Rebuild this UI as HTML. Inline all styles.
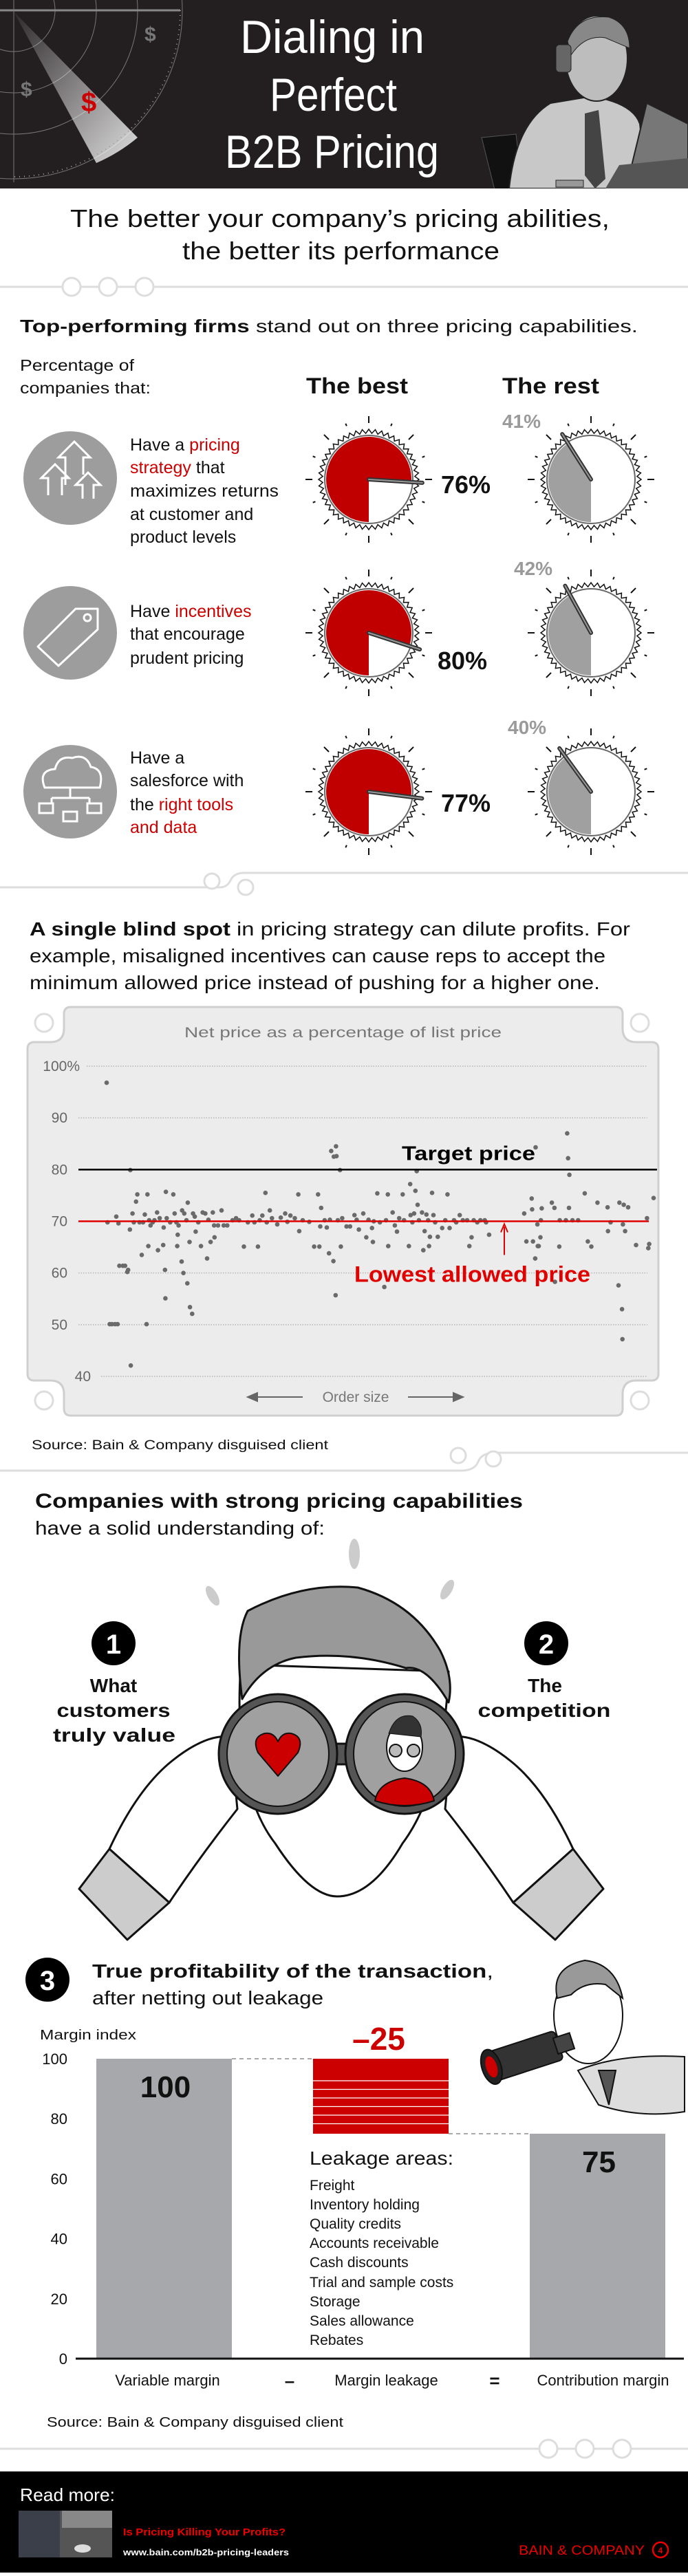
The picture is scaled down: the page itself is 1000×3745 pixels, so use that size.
<!DOCTYPE html>
<html><head><meta charset="utf-8">
<style>
html,body{margin:0;padding:0;background:#fff;}
body{width:1000px;height:3740px;overflow:hidden;font-family:"Liberation Sans",sans-serif;}
svg text{font-family:"Liberation Sans",sans-serif;}
</style></head>
<body>
<svg id="root" xmlns="http://www.w3.org/2000/svg" width="1000" height="3740" viewBox="0 0 1000 3740">
<defs>
<linearGradient id="beam" x1="0" y1="0" x2="1" y2="1"><stop offset="0" stop-color="#fff" stop-opacity="0.05"/><stop offset="1" stop-color="#fff" stop-opacity="0.85"/></linearGradient>
<clipPath id="hdrclip"><rect x="0" y="0" width="1000" height="274"/></clipPath>
</defs>

<!-- HEADER -->
<g>
<rect x="0" y="0" width="1000" height="274" fill="#231f20"/>
<g clip-path="url(#hdrclip)" fill="none" stroke="#777" stroke-width="1">
<circle cx="20" cy="15" r="60"/><circle cx="20" cy="15" r="120"/><circle cx="20" cy="15" r="180"/><circle cx="20" cy="15" r="245"/>
<line x1="0" y1="15" x2="262" y2="15" stroke="#888" stroke-width="3"/>
<line x1="20" y1="0" x2="20" y2="265"/>
<path d="M20 17 L140 237 A245 245 0 0 0 200 200 Z" fill="url(#beam)" stroke="none"/>
<path d="M262 15 A242 242 0 0 1 20 257" stroke="#999" stroke-width="2" stroke-dasharray="1 6" />
<text x="210" y="60" font-size="30" font-weight="bold" fill="#777" stroke="none">$</text>
<text x="30" y="140" font-size="30" font-weight="bold" fill="#777" stroke="none">$</text>
<text x="118" y="162" font-size="40" font-weight="bold" fill="#cc0000" stroke="none">$</text>
</g>
<g clip-path="url(#hdrclip)">
<path d="M700 200 L720 280 L760 280 L750 195 Z" fill="#111" stroke="#555"/>
<path d="M740 274 Q750 180 800 150 L860 140 Q920 150 930 180 L940 274 Z" fill="#c8c8c8" stroke="#222" stroke-width="2"/>
<path d="M850 165 L870 160 L880 260 L865 274 L850 255 Z" fill="#444"/>
<ellipse cx="867" cy="85" rx="45" ry="62" fill="#bdbdbd" stroke="#222" stroke-width="2"/>
<path d="M825 60 Q840 20 885 25 Q915 35 915 70 L880 55 Q850 50 830 80 Z" fill="#888" stroke="#222"/>
<rect x="808" y="65" width="22" height="40" rx="5" fill="#666" stroke="#222"/>
<path d="M910 274 L940 150 Q980 170 1000 180 L1000 274 Z" fill="#777" stroke="#222" stroke-width="2"/>
<path d="M900 240 L1000 230 L1000 274 L880 274 Z" fill="#555"/>
<rect x="808" y="262" width="40" height="10" fill="#999" stroke="#222"/>
</g>
<text x="349" y="77" font-size="68" fill="#fff" textLength="268" lengthAdjust="spacingAndGlyphs">Dialing in</text>
<text x="392" y="161" font-size="68" fill="#fff" textLength="185" lengthAdjust="spacingAndGlyphs">Perfect</text>
<text x="327" y="244" font-size="68" fill="#fff" textLength="311" lengthAdjust="spacingAndGlyphs">B2B Pricing</text>
</g>

<!-- SUBTITLE -->
<text x="102" y="330" font-size="36" fill="#111" textLength="784" lengthAdjust="spacingAndGlyphs">The better your company’s pricing abilities,</text>
<text x="265" y="377" font-size="36" fill="#111" textLength="461" lengthAdjust="spacingAndGlyphs">the better its performance</text>

<g fill="#fff" stroke="#ddd" stroke-width="3">
<line x1="0" y1="417" x2="1000" y2="417"/><circle cx="104" cy="417" r="13"/><circle cx="157" cy="417" r="13"/><circle cx="210" cy="417" r="13"/>
</g>

<!-- SECTION 1 -->
<text x="29" y="483" font-size="26" fill="#111" textLength="898" lengthAdjust="spacingAndGlyphs"><tspan font-weight="bold">Top-performing firms</tspan> stand out on three pricing capabilities.</text>
<text font-size="23" fill="#111"><tspan x="29" y="539" textLength="166" lengthAdjust="spacingAndGlyphs">Percentage of</tspan><tspan x="29" y="572" textLength="190" lengthAdjust="spacingAndGlyphs">companies that:</tspan></text>
<text x="445" y="572" font-size="32" font-weight="bold" fill="#111" textLength="148" lengthAdjust="spacingAndGlyphs">The best</text>
<text x="730" y="572" font-size="32" font-weight="bold" fill="#111" textLength="141" lengthAdjust="spacingAndGlyphs">The rest</text>

<g>
<circle cx="102" cy="695" r="68" fill="#9d9d9d"/>
<g fill="none" stroke="#fff" stroke-width="3"><path d="M95 705 V665 H85 L108 642 L131 665 H121 V690"/><path d="M70 720 V695 H60 L80 675 L100 695 H90 V720"/><path d="M120 725 V705 H110 L128 687 L146 705 H136 V725"/></g>
</g>
<text font-size="25" fill="#111"><tspan x="189" y="655">Have a <tspan fill="#cc0000">pricing</tspan></tspan><tspan x="189" y="688"><tspan fill="#cc0000">strategy</tspan> that</tspan><tspan x="189" y="722" textLength="216" lengthAdjust="spacingAndGlyphs">maximizes returns</tspan><tspan x="189" y="756">at customer and</tspan><tspan x="189" y="789">product levels</tspan></text>

<g>
<circle cx="102" cy="920" r="68" fill="#9d9d9d"/>
<path d="M55 940 L110 885 L142 885 L142 915 L85 968 Z" fill="none" stroke="#fff" stroke-width="3" stroke-linejoin="round"/><circle cx="127" cy="898" r="5" fill="none" stroke="#fff" stroke-width="3"/>
</g>
<text font-size="25" fill="#111"><tspan x="189" y="897">Have <tspan fill="#cc0000">incentives</tspan></tspan><tspan x="189" y="930">that encourage</tspan><tspan x="189" y="965">prudent pricing</tspan></text>

<g>
<circle cx="102" cy="1151" r="68" fill="#9d9d9d"/>
<g fill="none" stroke="#fff" stroke-width="3"><path d="M65 1145 Q55 1120 80 1118 Q85 1098 105 1102 Q125 1095 132 1115 Q152 1118 145 1145 Z"/><path d="M102 1145 V1160 M75 1160 H130 M75 1160 V1168 M130 1160 V1168"/><rect x="57" y="1168" width="20" height="14"/><rect x="92" y="1180" width="20" height="14"/><rect x="127" y="1168" width="20" height="14"/></g>
</g>
<text font-size="25" fill="#111"><tspan x="189" y="1110">Have a</tspan><tspan x="189" y="1143">salesforce with</tspan><tspan x="189" y="1178">the <tspan fill="#cc0000">right tools</tspan></tspan><tspan x="189" y="1211" fill="#cc0000">and data</tspan></text>

<g id="gauges"></g>

<g fill="#fff" stroke="#ddd" stroke-width="3">
<path d="M0 1290 H320 Q330 1290 335 1280 Q340 1269 355 1269 H1000" fill="none"/><circle cx="308" cy="1281" r="11"/><circle cx="357" cy="1290" r="11"/>
</g>

<!-- SECTION 2 -->
<text font-size="28" fill="#111">
<tspan x="43" y="1360" textLength="873" lengthAdjust="spacingAndGlyphs"><tspan font-weight="bold">A single blind spot</tspan> in pricing strategy can dilute profits. For</tspan>
<tspan x="43" y="1399" textLength="837" lengthAdjust="spacingAndGlyphs">example, misaligned incentives can cause reps to accept the</tspan>
<tspan x="43" y="1438" textLength="829" lengthAdjust="spacingAndGlyphs">minimum allowed price instead of pushing for a higher one.</tspan>
</text>

<g>
<path d="M103 1464 H895 Q905 1464 905 1474 V1495 Q905 1515 925 1515 H947 Q957 1515 957 1525 V1997 Q957 2007 947 2007 H925 Q905 2007 905 2027 V2048 Q905 2058 895 2058 H103 Q93 2058 93 2048 V2027 Q93 2007 73 2007 H50 Q40 2007 40 1997 V1525 Q40 1515 50 1515 H73 Q93 1515 93 1495 V1474 Q93 1464 103 1464 Z" fill="#ececec" stroke="#cfcfcf" stroke-width="3"/>
<g fill="#fff" stroke="#ddd" stroke-width="3"><circle cx="64" cy="1487" r="13"/><circle cx="930" cy="1487" r="13"/><circle cx="64" cy="2036" r="13"/><circle cx="930" cy="2036" r="13"/></g>
</g>
<text x="268" y="1508" font-size="21" fill="#777" textLength="461" lengthAdjust="spacingAndGlyphs">Net price as a percentage of list price</text>
<g id="scatter"></g>
<text x="517" y="2038" font-size="21" fill="#777" text-anchor="middle">Order size</text>
<g stroke="#666" stroke-width="2" fill="#666">
<line x1="362" y1="2031" x2="440" y2="2031"/><path d="M360 2031 L374 2025 L374 2037 Z"/>
<line x1="593" y1="2031" x2="671" y2="2031"/><path d="M673 2031 L659 2025 L659 2037 Z"/>
</g>
<text x="46" y="2107" font-size="19" fill="#111" textLength="431" lengthAdjust="spacingAndGlyphs">Source: Bain &amp; Company disguised client</text>

<g fill="#fff" stroke="#ddd" stroke-width="3">
<path d="M0 2138 H670 Q690 2138 695 2125 Q700 2112 720 2112 H1000" fill="none"/><circle cx="666" cy="2116" r="11"/><circle cx="717" cy="2121" r="11"/>
</g>

<!-- SECTION 3 -->
<text x="51" y="2192" font-size="30" font-weight="bold" fill="#111" textLength="709" lengthAdjust="spacingAndGlyphs">Companies with strong pricing capabilities</text>
<text x="51" y="2231" font-size="28" fill="#111" textLength="421" lengthAdjust="spacingAndGlyphs">have a solid understanding of:</text>

<g stroke="#111" stroke-width="3" stroke-linejoin="round">
<g fill="#ccc" stroke="none"><ellipse cx="515" cy="2259" rx="8" ry="22"/><ellipse cx="309" cy="2320" rx="7" ry="16" transform="rotate(-30 309 2320)"/><ellipse cx="650" cy="2311" rx="7" ry="16" transform="rotate(30 650 2311)"/></g>
<path d="M350 2420 Q338 2600 400 2680 Q450 2757 490 2757 Q540 2757 585 2680 Q645 2600 652 2430 Z" fill="#fff"/>
<path d="M352 2470 Q340 2380 360 2342 Q440 2300 520 2308 Q600 2330 640 2400 Q660 2440 652 2475 Q620 2420 590 2425 Q510 2400 430 2410 Q380 2420 352 2470 Z" fill="#999"/>
<path d="M159 2688 Q200 2600 250 2560 Q300 2520 335 2525 L345 2630 Q290 2700 246 2766 Z" fill="#fff"/>
<path d="M833 2688 Q792 2600 742 2560 Q692 2520 657 2525 L647 2630 Q702 2700 746 2766 Z" fill="#fff"/>
<path d="M115 2746 L159 2688 L246 2766 L185 2820 Z" fill="#ccc"/>
<path d="M877 2746 L833 2688 L746 2766 L807 2820 Z" fill="#ccc"/>
<rect x="480" y="2535" width="32" height="30" fill="#555"/>
<ellipse cx="404" cy="2550" rx="86" ry="87" fill="#555"/><ellipse cx="404" cy="2550" rx="74" ry="76" fill="#a0a0a0" stroke-width="2"/>
<ellipse cx="588" cy="2550" rx="86" ry="87" fill="#555"/><ellipse cx="588" cy="2550" rx="74" ry="76" fill="#a0a0a0" stroke-width="2"/>
<path d="M404 2582 L375 2548 Q365 2525 385 2520 Q398 2518 404 2532 Q410 2518 423 2520 Q443 2525 433 2548 Z" fill="#cc0000" stroke-width="2"/>
<path d="M545 2618 Q550 2590 588 2585 Q626 2590 631 2618 Q610 2625 588 2625 Q566 2625 545 2618 Z" fill="#cc0000" stroke-width="2"/>
<ellipse cx="588" cy="2540" rx="26" ry="35" fill="#fff" stroke-width="2"/>
<path d="M565 2520 Q575 2490 600 2495 Q615 2505 612 2525 Z" fill="#333" stroke-width="1"/>
<circle cx="575" cy="2545" r="9" fill="#bbb" stroke-width="2"/><circle cx="601" cy="2545" r="9" fill="#bbb" stroke-width="2"/>
</g>
<g>
<circle cx="165" cy="2389" r="32" fill="#000"/>
<text x="165" y="2404" font-size="40" font-weight="bold" fill="#fff" text-anchor="middle">1</text>
<text font-size="28" font-weight="bold" fill="#111" text-anchor="middle"><tspan x="165" y="2460">What</tspan><tspan x="165" y="2496" textLength="165" lengthAdjust="spacingAndGlyphs">customers</tspan><tspan x="166" y="2532" textLength="178" lengthAdjust="spacingAndGlyphs">truly value</tspan></text>
</g>
<g>
<circle cx="794" cy="2389" r="32" fill="#000"/>
<text x="794" y="2404" font-size="40" font-weight="bold" fill="#fff" text-anchor="middle">2</text>
<text font-size="28" font-weight="bold" fill="#111" text-anchor="middle"><tspan x="792" y="2460">The</tspan><tspan x="791" y="2496" textLength="193" lengthAdjust="spacingAndGlyphs">competition</tspan></text>
</g>

<g>
<circle cx="69" cy="2878" r="32" fill="#000"/>
<text x="69" y="2893" font-size="40" font-weight="bold" fill="#fff" text-anchor="middle">3</text>
</g>
<text x="134" y="2875" font-size="28" fill="#111" textLength="583" lengthAdjust="spacingAndGlyphs"><tspan font-weight="bold">True profitability of the transaction</tspan>,</text>
<text x="134" y="2914" font-size="28" fill="#111" textLength="336" lengthAdjust="spacingAndGlyphs">after netting out leakage</text>

<g stroke="#111" stroke-width="2">
<path d="M840 3010 Q900 2985 995 2990 L995 3070 Q930 3080 870 3060 Z" fill="#ddd"/>
<path d="M870 3010 L885 3060 L895 3010 Z" fill="#555"/>
<ellipse cx="855" cy="2930" rx="50" ry="70" fill="#fff"/>
<path d="M810 2905 Q800 2860 850 2850 Q895 2855 905 2905 L880 2885 Q850 2880 830 2900 Z" fill="#999"/>
<g transform="rotate(-18 760 2990)"><rect x="705" y="2968" width="110" height="44" rx="6" fill="#333"/><rect x="810" y="2978" width="25" height="24" fill="#444"/><ellipse cx="712" cy="2990" rx="14" ry="26" fill="#222"/><ellipse cx="712" cy="2990" rx="8" ry="16" fill="#cc0000" stroke="none"/></g>
</g>

<text x="58" y="2965" font-size="20" fill="#111" textLength="140" lengthAdjust="spacingAndGlyphs">Margin index</text>
<g id="waterfall"></g>
<text x="450" y="3147" font-size="28" fill="#111" textLength="209" lengthAdjust="spacingAndGlyphs">Leakage areas:</text>
<text font-size="21" fill="#111">
<tspan x="450" y="3184">Freight</tspan><tspan x="450" y="3212">Inventory holding</tspan><tspan x="450" y="3240">Quality credits</tspan><tspan x="450" y="3268">Accounts receivable</tspan><tspan x="450" y="3296">Cash discounts</tspan><tspan x="450" y="3325">Trial and sample costs</tspan><tspan x="450" y="3353">Storage</tspan><tspan x="450" y="3381">Sales allowance</tspan><tspan x="450" y="3409">Rebates</tspan>
</text>
<text x="421" y="3470" font-size="26" font-weight="bold" fill="#111" text-anchor="middle">–</text>
<text x="719" y="3470" font-size="26" font-weight="bold" fill="#111" text-anchor="middle">=</text>
<text x="68" y="3528" font-size="20" fill="#111" textLength="431" lengthAdjust="spacingAndGlyphs">Source: Bain &amp; Company disguised client</text>

<g fill="#fff" stroke="#ddd" stroke-width="3">
<line x1="0" y1="3560" x2="1000" y2="3560"/><circle cx="797" cy="3560" r="13"/><circle cx="850" cy="3560" r="13"/><circle cx="904" cy="3560" r="13"/>
</g>

<!-- FOOTER -->
<g>
<rect x="0" y="3593" width="1000" height="147" fill="#000"/>
<text x="29" y="3636" font-size="26" fill="#fff" textLength="138" lengthAdjust="spacingAndGlyphs">Read more:</text>
<g><rect x="27" y="3650" width="136" height="68" fill="#555"/><rect x="27" y="3650" width="60" height="68" fill="#3a3f4a"/><ellipse cx="120" cy="3705" rx="12" ry="6" fill="#ddd"/><rect x="90" y="3650" width="73" height="25" fill="#888"/></g>
<text x="179" y="3686" font-size="15" font-weight="bold" fill="#e00" textLength="236" lengthAdjust="spacingAndGlyphs">Is Pricing Killing Your Profits?</text>
<text x="179" y="3715" font-size="13" font-weight="bold" fill="#fff" textLength="241" lengthAdjust="spacingAndGlyphs">www.bain.com/b2b-pricing-leaders</text>
<text x="754" y="3714" font-size="19" fill="#e00" textLength="183" lengthAdjust="spacingAndGlyphs">BAIN &amp; COMPANY</text>
<g><circle cx="960" cy="3707" r="11" fill="none" stroke="#e00" stroke-width="2.5"/><text x="960" y="3712" font-size="12" font-weight="bold" fill="#e00" text-anchor="middle">4</text></g>
</g>
</svg>

<script>
// ===== Gauges data =====
const capabilityRows = ["pricing-strategy","incentives","right-tools"];
const bestPct = [76, 80, 77];
const restPct = [41, 42, 40];

// ===== Scatter data (order size rank, net price % of list) =====
const orderSize = [243,245,250,255,262,268,265,270,272,280,285,290,292,297,298,296,302,305,310,313,318,323,326,330,334,336,338,340,343,348,352,358,360,364,372,373,376,377,378,380,388,395,398,402,404,405,407,414,415,418,420,425,427,428,432,433,438,440,444,446,452,458,462,468,472,475,480,485,488,489,497,505,510,518,530,538,545,556,565,575,580,588,592,598,605,608,615,620,632,640,650,655,662,672,680,682,690,705,716,725,728,730,732,740,745,750,752,755,760,761,765,766,767,770,775,777,780,790,798,808,813,818,828,835,840,848,850,852,860,866,876,880,884,885,895,900,905,910,918,921,932,935,936,940,944,947,950,952,955,962,965,968,972,976,978,980,985,988,992,998,1008,1015,1020,1025,1035,1040,1048,1055,1065,1070,1075,1080,1088,1095,1105,1108,1115,1195,1200,1212,1213,1215,1220,1221,1225,1226,1228,1232,1233,1235,1258,1264,1265,1275,1276,1290,1293,1295,1297,1298,1305,1318,1333,1340,1348,1362,1385,1386,1392,1410,1412,1418,1419,1420,1422,1425,1432,1450,1475,1478,1480,1490];
const netPrice = [96.8,69.8,50.1,50.1,50.1,50.1,70.9,69.6,61.4,61.4,61.4,60.2,60.6,79.9,42.1,68.4,71.5,69.8,73.8,75.2,69.8,63.5,69.8,71.3,50.1,75.2,65.2,70.2,69.2,69.8,70.2,71.7,64.4,70.6,65.4,68.8,60.6,55.1,75.7,70.6,69.8,75.2,71.5,69.8,65.2,67.4,69.2,62.2,72.1,60.0,71.5,70.2,58.0,73.6,66.0,53.4,52.1,71.5,70.9,68.0,69.8,65.2,71.7,71.5,62.8,70.3,66.0,71.7,69.2,66.9,69.2,72.1,69.2,69.2,70.2,70.6,70.2,65.1,69.8,71.1,69.8,65.1,70.2,71.1,75.5,69.8,72.1,70.6,69.4,70.7,71.5,69.9,71.1,70.6,75.2,68.1,70.2,69.9,65.1,75.2,65.1,69.0,72.6,70.2,68.8,63.8,70.3,83.6,62.3,82.5,55.7,84.5,82.6,70.2,79.9,65.1,70.6,69.0,69.0,71.2,70.3,68.4,71.5,66.9,70.3,68.7,66.0,70.0,75.4,69.8,57.3,70.2,75.2,65.2,71.7,69.2,68.0,70.6,75.2,70.2,65.2,77.2,71.2,69.8,71.5,75.9,79.7,73.2,70.2,71.7,64.4,68.1,71.3,70.2,65.2,67.0,75.5,71.2,69.8,67.0,68.7,70.2,75.2,68.7,70.2,69.8,71.2,70.2,70.2,65.2,66.9,70.2,69.8,70.2,70.2,69.8,67.4,71.5,66.1,74.4,72.3,66.1,62.8,84.3,69.4,65.2,65.2,66.9,70.2,72.5,73.6,72.6,58.3,65.1,70.2,70.2,87.0,82.2,72.6,79.0,70.2,70.2,75.4,66.1,65.1,73.6,72.7,68.1,69.8,57.6,73.6,53.0,47.2,69.4,73.2,68.1,72.7,65.4,70.6,64.8,65.6,74.5];
const yTicks = [100, 90, 80, 70, 60, 50, 40];
const yTickLabels = ["100%","90","80","70","60","50","40"];
const targetPrice = 80;
const lowestAllowed = 70;

// ===== Waterfall data =====
const wfCategories = ["Variable margin","Margin leakage","Contribution margin"];
const wfStart = [0, 75, 0];
const wfEnd = [100, 100, 75];
const wfLabels = ["100","–25","75"];
const wfTicks = [0,20,40,60,80,100];

const NS = "http://www.w3.org/2000/svg";
function mk(parent, tag, attrs, text){
  const el = document.createElementNS(NS, tag);
  for (const k in attrs) el.setAttribute(k, attrs[k]);
  if (text !== undefined) el.textContent = text;
  parent.appendChild(el);
  return el;
}

// ---------- Gauges ----------
const gaugeG = document.getElementById('gauges');
const rowY = [697, 920, 1151];
function pt(cx, cy, r, frac){ const t = frac*2*Math.PI; return [cx - r*Math.sin(t), cy + r*Math.cos(t)]; }
function drawGauge(cx, cy, pct, color, name){
  const g = mk(gaugeG, 'g', {});
  
  
  for (let i=0;i<16;i++){
    const a = i/16*2*Math.PI, r1 = i%2===0?82:84, r2 = i%2===0?92:88;
    mk(g,'line',{x1:cx+r1*Math.sin(a),y1:cy-r1*Math.cos(a),x2:cx+r2*Math.sin(a),y2:cy-r2*Math.cos(a),stroke:'#111','stroke-width':2});
  }
  let d = '';
  const n = 48;
  for (let i=0;i<n*2;i++){
    const a = i/(n*2)*2*Math.PI, r = i%2===0?73:67;
    d += (i===0?'M':'L') + (cx+r*Math.sin(a)).toFixed(1) + ' ' + (cy-r*Math.cos(a)).toFixed(1);
  }
  mk(g,'path',{d:d+'Z',fill:'#fff',stroke:'#111','stroke-width':1.5});
  mk(g,'circle',{cx:cx,cy:cy,r:64,fill:'#fff',stroke:'#666','stroke-width':2});
  const r = 62, f = pct/100;
  const s = pt(cx,cy,r,0), e = pt(cx,cy,r,f);
  const large = f>0.5?1:0;
  const sector = mk(g,'path',{d:`M${cx} ${cy} L${s[0]} ${s[1]} A${r} ${r} 0 ${large} 1 ${e[0].toFixed(2)} ${e[1].toFixed(2)} Z`,fill:color});
  
  
  const ne = pt(cx,cy,78,f);
  mk(g,'line',{x1:cx,y1:cy,x2:ne[0],y2:ne[1],stroke:'#333','stroke-width':6,'stroke-linecap':'round'});
  mk(g,'line',{x1:cx,y1:cy,x2:ne[0],y2:ne[1],stroke:'#999','stroke-width':2,'stroke-linecap':'round'});
}
const bestLabelPos = [[641,717],[636,973],[641,1180]];
const restLabelPos = [[730,622],[747,836],[738,1067]];
for (let i=0;i<capabilityRows.length;i++){
  drawGauge(536, rowY[i], bestPct[i], '#c00000', 'best-gauge-' + capabilityRows[i]);
  drawGauge(859, rowY[i], restPct[i], '#a0a0a0', 'rest-gauge-' + capabilityRows[i]);
  const bl = mk(gaugeG,'text',{x:bestLabelPos[i][0],y:bestLabelPos[i][1],'font-size':36,'font-weight':'bold',fill:'#111'}, bestPct[i]+'%');
  
  
  const rl = mk(gaugeG,'text',{x:restLabelPos[i][0],y:restLabelPos[i][1],'font-size':28,'font-weight':'bold',fill:'#9a9a9a'}, restPct[i]+'%');
  
  
}

// ---------- Scatter ----------
const sc = document.getElementById('scatter');
const xMin = Math.min(...orderSize), xMax = Math.max(...orderSize);
const sx = v => 155 + (v - xMin)/(xMax - xMin)*795;
const sy = v => 1550 + (100 - v)*7.517;
yTicks.forEach((t,i)=>{
  const gx = t===100?126:(t===40?147:114);
  const gl = mk(sc,'line',{x1:gx,y1:sy(t),x2:941,y2:sy(t),stroke:'#b5b5b5','stroke-width':1.5,'stroke-dasharray':'1.5 2'});
  
  
  const lx = t===100?116:(t===40?132:98);
  const tl = mk(sc,'text',{x:lx,y:sy(t)+7,'font-size':21,fill:'#666','text-anchor':'end'}, yTickLabels[i]);
  
  
});
orderSize.forEach((x,i)=>{
  const c = mk(sc,'circle',{cx:sx(x).toFixed(1),cy:sy(netPrice[i]).toFixed(1),r:3.3,fill:'#6a6a6a'});
  
  
});
const tline = mk(sc,'line',{x1:114,y1:sy(targetPrice),x2:955,y2:sy(targetPrice),stroke:'#000','stroke-width':2.5});


const rline = mk(sc,'line',{x1:114,y1:sy(lowestAllowed),x2:943,y2:sy(lowestAllowed),stroke:'#e00000','stroke-width':2.5});


const tlab = mk(sc,'text',{x:584,y:sy(targetPrice)-14,'font-size':29,'font-weight':'bold',fill:'#000',textLength:194,lengthAdjust:'spacingAndGlyphs'},'Target price');


const arr = mk(sc,'path',{d:`M733 ${sy(lowestAllowed)+49} V${sy(lowestAllowed)+8} M728 ${sy(lowestAllowed)+16} L733 ${sy(lowestAllowed)+4} L738 ${sy(lowestAllowed)+16}`,stroke:'#e00000','stroke-width':2,fill:'none'});


const llab = mk(sc,'text',{x:515,y:sy(lowestAllowed)+88,'font-size':32,'font-weight':'bold',fill:'#e00000',textLength:343,lengthAdjust:'spacingAndGlyphs'},'Lowest allowed price');



// ---------- Waterfall ----------
const wf = document.getElementById('waterfall');
const wy = v => 3429 - v*4.36;
const bandX = i => 140 + i*315;
const bw = 197;
wfTicks.forEach(t=>{
  const tl = mk(wf,'text',{x:98,y:wy(t)+8,'font-size':22,fill:'#111','text-anchor':'end'}, String(t));
  
  
});
wfCategories.forEach((c,i)=>{
  const x = bandX(i), top = wy(wfEnd[i]), bot = wy(wfStart[i]);
  const isLeak = i===1;
  const b = mk(wf,'rect',{x:x,y:top,width:bw,height:bot-top,fill:isLeak?'#cc0000':'#a7a8ab'});
  
  
  if (isLeak){
    for (let yy = top+32; yy < bot-2; yy += 12.5){
      mk(wf,'line',{x1:x,y1:yy,x2:x+bw,y2:yy,stroke:'#fff','stroke-width':1.2});
    }
    const vl = mk(wf,'text',{x:x+bw/2-3,y:top-13,'font-size':46,'font-weight':'bold',fill:'#cc0000','text-anchor':'middle'}, wfLabels[i]);
    
    
  } else {
    const vl = mk(wf,'text',{x:x+bw/2+2,y:top+56,'font-size':44,'font-weight':'bold',fill:'#111','text-anchor':'middle'}, wfLabels[i]);
    
    
  }
  const cl = mk(wf,'text',{x:x+bw/2+(i===0?5:8),y:3468,'font-size':22,fill:'#111','text-anchor':'middle'}, c);
  
  
  if (i < wfCategories.length-1){
    const level = i===0 ? wfEnd[0] : wfStart[1];
    const dl = mk(wf,'line',{x1:x+bw,y1:wy(level),x2:bandX(i+1),y2:wy(level),stroke:'#aaa','stroke-width':2,'stroke-dasharray':'6 5'});
    
    
  }
});
const ax = mk(wf,'line',{x1:110,y1:wy(0),x2:994,y2:wy(0),stroke:'#111','stroke-width':3});


</script>
</body></html>
